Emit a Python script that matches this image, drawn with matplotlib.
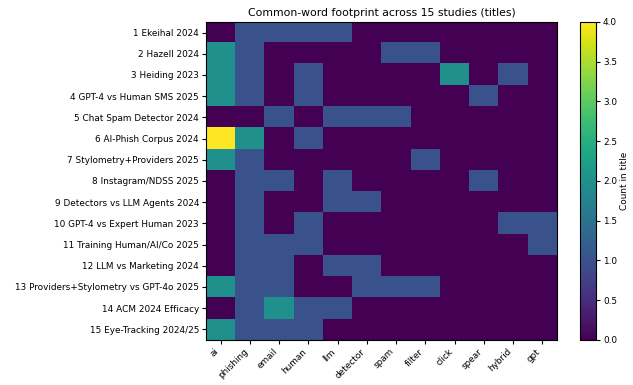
import numpy as np
import matplotlib
matplotlib.use("Agg")
import matplotlib.pyplot as plt

studies = [
    "1 Ekeihal 2024",
    "2 Hazell 2024",
    "3 Heiding 2023",
    "4 GPT-4 vs Human SMS 2025",
    "5 Chat Spam Detector 2024",
    "6 AI-Phish Corpus 2024",
    "7 Stylometry+Providers 2025",
    "8 Instagram/NDSS 2025",
    "9 Detectors vs LLM Agents 2024",
    "10 GPT-4 vs Expert Human 2023",
    "11 Training Human/AI/Co 2025",
    "12 LLM vs Marketing 2024",
    "13 Providers+Stylometry vs GPT-4o 2025",
    "14 ACM 2024 Efficacy",
    "15 Eye-Tracking 2024/25",
]

words = ["ai", "phishing", "email", "human", "llm", "detector",
         "spam", "filter", "click", "spear", "hybrid", "gpt"]

# word counts per study title (rows follow `studies`, columns follow `words`)
counts = [
    [0, 1, 1, 1, 1, 0, 0, 0, 0, 0, 0, 0],
    [2, 1, 0, 0, 0, 0, 1, 1, 0, 0, 0, 0],
    [2, 1, 0, 1, 0, 0, 0, 0, 2, 0, 1, 0],
    [2, 1, 0, 1, 0, 0, 0, 0, 0, 1, 0, 0],
    [0, 0, 1, 0, 1, 1, 1, 0, 0, 0, 0, 0],
    [4, 2, 0, 1, 0, 0, 0, 0, 0, 0, 0, 0],
    [2, 1, 0, 0, 0, 0, 0, 1, 0, 0, 0, 0],
    [0, 1, 1, 0, 1, 0, 0, 0, 0, 1, 0, 0],
    [0, 1, 0, 0, 1, 1, 0, 0, 0, 0, 0, 0],
    [0, 1, 0, 1, 0, 0, 0, 0, 0, 0, 1, 1],
    [0, 1, 1, 1, 0, 0, 0, 0, 0, 0, 0, 1],
    [0, 1, 1, 0, 1, 1, 0, 0, 0, 0, 0, 0],
    [2, 1, 1, 0, 0, 1, 1, 1, 0, 0, 0, 0],
    [0, 1, 2, 1, 1, 0, 0, 0, 0, 0, 0, 0],
    [2, 1, 1, 1, 0, 0, 0, 0, 0, 0, 0, 0],
]

data = np.array(counts, dtype=float)

fig = plt.figure(figsize=(6.33, 3.85), dpi=100)
ax = fig.add_axes([0.3254, 0.1169, 0.5545, 0.826])
cax = fig.add_axes([0.9163, 0.1169, 0.0253, 0.826])

im = ax.imshow(data, aspect="auto", cmap="viridis", vmin=0, vmax=4,
               interpolation="nearest")
ax.set_xticks(range(len(words)))
ax.set_xticklabels(words, rotation=45, ha="right", fontsize=6.4)
ax.set_yticks(range(len(studies)))
ax.set_yticklabels(studies, fontsize=6.4)
ax.tick_params(length=3, pad=2)
ax.set_title("Common-word footprint across 15 studies (titles)", fontsize=7.8, pad=4)

cb = fig.colorbar(im, cax=cax)
cb.set_label("Count in title", fontsize=6.4, labelpad=2)
cb.ax.tick_params(labelsize=6.4, length=3, pad=2)

fig.savefig("out.png", dpi=100)
